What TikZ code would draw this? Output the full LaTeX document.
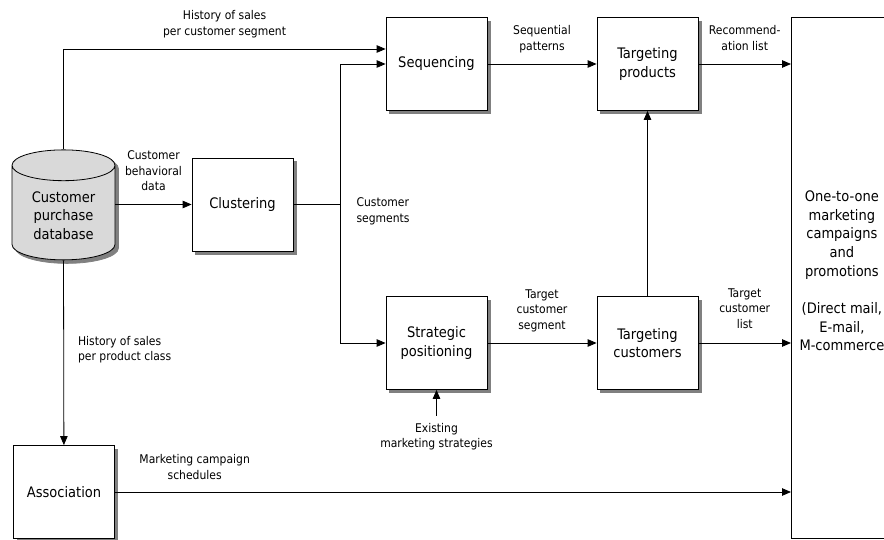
\documentclass[tikz,border=0pt]{standalone}
\usepackage{fontspec}
\setmainfont{DejaVu Sans Condensed}
\usepackage{tikz}
\usetikzlibrary{positioning}
\usetikzlibrary{shapes.geometric}
\usetikzlibrary{arrows.meta}
\usetikzlibrary{backgrounds}
\newcommand{\stagefont}{\fontsize{14.5}{18.7}\selectfont}
\newcommand{\notefont}{\fontsize{12}{15.5}\selectfont}

\begin{document}
\begin{tikzpicture}[x=1pt, y=-1pt,
    box/.style= {
        draw,
        fill=white,
        line width=0.8pt,
        align=center,
        font=\stagefont },
    stage/.style= {
        box,
        minimum width=101pt,
        minimum height=93pt },
    store/.style= {
        box, cylinder, shape border rotate=90, aspect=0.44,
        minimum width=103pt, minimum height=110pt },
    note/.style= {align=center, font=\notefont, inner sep=1pt},
    flow/.style= {
        -{Triangle[length=9pt,width=7.5pt]},
        line width=0.8pt } ]
    \useasboundingbox (0,0) rectangle (884,540);
    \node [store, fill=gray!30] (db) at (63.5,215.5) {Customer\\purchase\\database};
    \node [stage] (clust) at (242.5,204.5) {Clustering};
    \node [stage] (seq) at (436.5,64) {Sequencing};
    \node [stage] (strat) at (436.5,343) {Strategic\\positioning};
    \node [stage] (tprod) at (647.5,64) {Targeting\\products};
    \node [stage] (tcust) at (647.5,343) {Targeting\\customers};
    \node [stage] (assoc) at (64,492) {Association};
    \node [box, minimum width=104pt, minimum height=521pt, anchor=north west]
        (camp) at (791,17) {};
    \node [align=center, font=\stagefont] (camptext) at ([xshift=-1.5pt, yshift=7pt]camp.center)
        {One-to-one\\marketing\\campaigns\\and\\promotions\\[18.7pt](Direct mail,\\E-mail,\\M-commerce};
    \coordinate [right=47pt of clust.east] (split);
    \node [note, below=32pt of strat] (exist) {Existing\\marketing strategies};
    \node [note, align=left, right=15pt of split, yshift=-7pt] (segs) {Customer\\segments};

    % shadows
    \begin{scope}[on background layer]
        \node [store, fill=gray, draw=gray] (dbshadow)
            at ([shift={(3.5pt,-3.5pt)}]db.center) {\phantom{Customer}\\\phantom{purchase}\\\phantom{database}};
        \foreach \n in {clust,seq,strat,tprod,tcust,assoc}
            \fill [gray] ([shift={(3.5pt,-3.5pt)}]\n.south west) rectangle ([shift={(3.5pt,-3.5pt)}]\n.north east);
    \end{scope}

    \draw [flow] (db.north) |- ([yshift=15pt]seq.west)
        node[pos=0.75, above=10pt, note] {History of sales\\per customer segment};
    \draw [flow] (db.east |- clust.west) -- (clust)
        node[midway, above=12pt, note] {Customer\\behavioral\\data};
    \draw [line width=0.8pt] (clust) -- (split);
    \draw [flow] (split) |- (seq);
    \draw [flow] (split) |- (strat);
    \draw [flow] (seq) -- (tprod)
        node[midway, above=10pt, note] {Sequential\\patterns};
    \draw [flow] (tprod) -- (tprod -| camp.west)
        node[midway, above=12pt, note] {Recommend-\\ation list};
    \draw [flow] (strat) -- (tcust)
        node[midway, above=10pt, note] {Target\\customer\\segment};
    \draw [flow] (tcust) -- (tcust -| camp.west)
        node[midway, above=13pt, note] {Target\\customer\\list};
    \draw [flow] (tcust) -- (tprod);
    \draw [flow] ([yshift=6pt]exist.north) -- (strat);
    \draw [flow] (db.south) -- (assoc)
        node[midway, right=13pt, yshift=3pt, note, align=left] {History of sales\\per product class};
    \draw [flow] (assoc) -- (assoc -| camp.west)
        node[pos=0.118, above=11pt, note] {Marketing campaign\\schedules};
\end{tikzpicture}
\end{document}
